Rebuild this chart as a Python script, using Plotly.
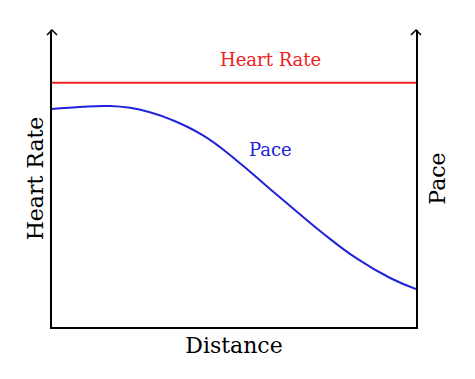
import plotly.graph_objects as go

distance = [0, 0.85, 1.59, 2.14, 2.69, 3.24, 4.15, 5.08, 5.99, 6.81, 7.45, 8.38, 9.29, 10]
pace = [73.4, 74.2, 74.4, 73.8, 72.3, 70.0, 64.5, 56.0, 46.5, 38.0, 31.5, 23.0, 16.5, 12.8]
hr_distance = [0, 10]
heart_rate = [82.2, 82.2]

FONT = "DejaVu Serif"
RED = "#ee2222"
BLUE = "#2222dd"

fig = go.Figure()
fig.add_trace(go.Scatter(x=hr_distance, y=heart_rate, mode="lines",
                         line=dict(color=RED, width=2), showlegend=False, hoverinfo="skip"))
fig.add_trace(go.Scatter(x=distance, y=pace, mode="lines", yaxis="y2",
                         line=dict(color=BLUE, width=2, shape="spline", smoothing=1.3),
                         showlegend=False, hoverinfo="skip"))

fig.add_annotation(x=5.99, y=90.1, text="Heart Rate", showarrow=False,
                   font=dict(family=FONT, size=18, color=RED))
fig.add_annotation(x=5.99, y=59.6, text="Pace", showarrow=False,
                   font=dict(family=FONT, size=18, color=BLUE))

# arrow heads at top of the vertical axes
for xa in [0, 1]:
    fig.add_shape(type="path", xref="paper", yref="paper", xsizemode="pixel", ysizemode="pixel",
                  xanchor=xa, yanchor=1, path="M -5,-5 L 0,0 L 5,-5",
                  line=dict(color="black", width=1.5))

fig.update_layout(
    width=467, height=371,
    margin=dict(l=44, r=59, t=22, b=52),
    plot_bgcolor="white", paper_bgcolor="white",
    font=dict(family=FONT, size=18, color="black"),
    xaxis=dict(range=[0, 10], showgrid=False, zeroline=False, showticklabels=False, ticks="",
               showline=True, linecolor="black", linewidth=2, automargin=False,
               title=dict(text="Distance", standoff=10)),
    yaxis=dict(range=[0, 100], showgrid=False, zeroline=False, showticklabels=False, ticks="",
               showline=True, linecolor="black", linewidth=2, automargin=False,
               title=dict(text="Heart Rate", standoff=0)),
    yaxis2=dict(range=[0, 100], overlaying="y", side="right", showgrid=False, zeroline=False,
                showticklabels=False, ticks="", showline=True, linecolor="black", linewidth=2,
                automargin=False, title=dict(text="Pace", standoff=13)),
)

fig.write_html("out.html")
